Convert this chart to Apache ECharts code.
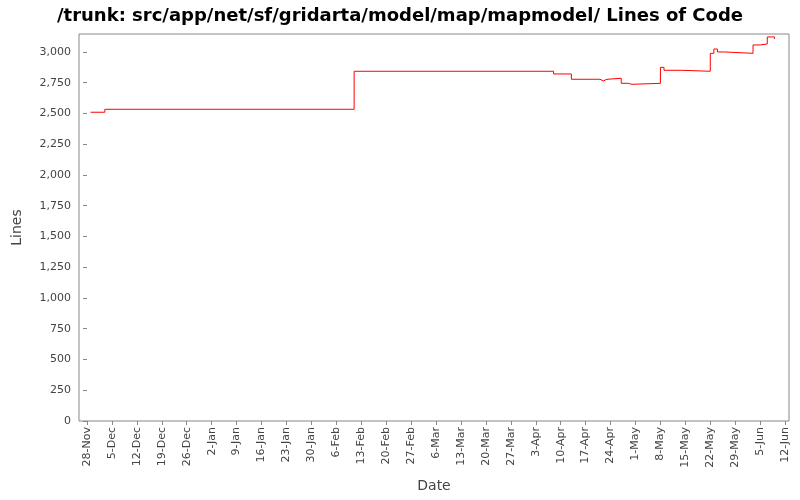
<!DOCTYPE html>
<html>
<head>
<meta charset="utf-8">
<script src="https://cdn.jsdelivr.net/npm/echarts@6/dist/echarts.min.js"></script>
<style>html,body{margin:0;background:#fff}#c{width:800px;height:500px}</style>
</head>
<body>
<div id="c"></div>
<script>
// days counted from 28-Nov-2006
const startDate = new Date(2006, 10, 28);
const dates = ['2006-11-29', '2006-12-03', '2007-02-11', '2007-04-08', '2007-04-13', '2007-04-21', '2007-04-22',
  '2007-04-23', '2007-04-27', '2007-04-29', '2007-04-30', '2007-05-08', '2007-05-09', '2007-05-14',
  '2007-05-22', '2007-05-23', '2007-05-24', '2007-05-26', '2007-06-03', '2007-06-05', '2007-06-07', '2007-06-09'];
const lines = [2510, 2534, 2843, 2821, 2778, 2765, 2778, 2786, 2745, 2737, 2745, 2875, 2851, 2843,
  2989, 3024, 3000, 2989, 3057, 3065, 3122, 3106];
const tickDays = [0, 7, 14, 21, 28, 35, 42, 49, 56, 63, 70, 77, 84, 91, 98, 105, 112, 119, 126, 133,
  140, 147, 154, 161, 168, 175, 182, 189, 196];
const months = ['Jan', 'Feb', 'Mar', 'Apr', 'May', 'Jun', 'Jul', 'Aug', 'Sep', 'Oct', 'Nov', 'Dec'];

function dayOf(s) {
  const p = s.split('-').map(Number);
  return Math.round((new Date(p[0], p[1] - 1, p[2]) - startDate) / 86400000);
}
function fmt(d) {
  const t = new Date(startDate.getTime() + d * 86400000);
  return t.getDate() + '-' + months[t.getMonth()];
}

const chart = echarts.init(document.getElementById('c'));
const font = 'DejaVu Sans';
chart.setOption({
  animation: false,
  backgroundColor: '#fff',
  title: {
    text: '/trunk: src/app/net/sf/gridarta/model/map/mapmodel/ Lines of Code',
    left: 'center', top: 2,
    textStyle: { fontFamily: font, fontSize: 18, fontWeight: 'bold', color: '#000' }
  },
  grid: { left: 79, right: 11, top: 34, bottom: 79, show: true, borderColor: '#888', borderWidth: 1 },
  xAxis: {
    type: 'value', min: -2.25, max: 197.1,
    name: 'Date', nameLocation: 'middle', nameGap: 58,
    nameTextStyle: { fontFamily: font, fontSize: 14, color: '#444' },
    splitLine: { show: false },
    axisLine: { show: false },
    axisTick: { show: true, customValues: tickDays, length: 4, lineStyle: { color: '#888' } },
    axisLabel: {
      customValues: tickDays, rotate: 90, formatter: v => fmt(v),
      fontFamily: font, fontSize: 11, color: '#444', margin: 6
    }
  },
  yAxis: {
    type: 'value', min: 0, max: 3146, interval: 250,
    name: 'Lines', nameLocation: 'middle', nameGap: 55,
    nameTextStyle: { fontFamily: font, fontSize: 14, color: '#444' },
    splitLine: { show: false },
    axisLine: { show: false },
    axisTick: { show: true, length: 4, lineStyle: { color: '#888' } },
    axisLabel: {
      showMaxLabel: false, fontFamily: font, fontSize: 11, color: '#444',
      formatter: v => v.toLocaleString('en-US')
    }
  },
  series: [{
    type: 'line', step: 'end', symbol: 'none',
    lineStyle: { color: '#ff0000', width: 1 },
    data: dates.map((d, i) => [dayOf(d), lines[i]])
  }]
});
</script>
</body>
</html>
